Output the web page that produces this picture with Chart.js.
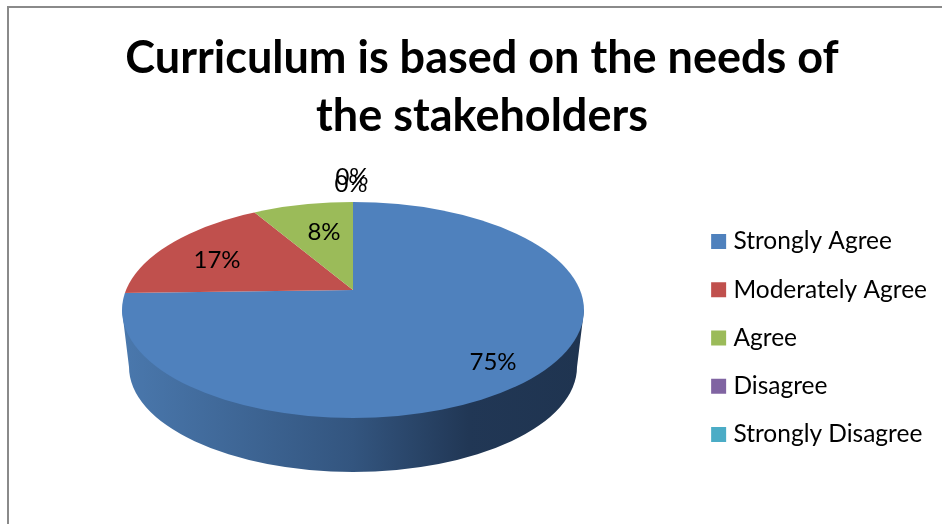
<!DOCTYPE html>
<html>
<head>
<meta charset="utf-8">
<script src="https://cdn.jsdelivr.net/npm/chart.js@4"></script>
<style>
    html, body { margin: 0; padding: 0; background: #fff; overflow: hidden; }
    #frame { position: absolute; left: 7px; top: 6px; width: 960px; height: 560px; border: 2px solid #8a8a8a; }
    #wrap { position: absolute; left: 0; top: 0; width: 942px; height: 524px; }
</style>
</head>
<body>
<div id="frame"></div>
<div id="wrap"><canvas id="chart"></canvas></div>
<script>
const categories = ['Strongly Agree', 'Moderately Agree', 'Agree', 'Disagree', 'Strongly Disagree'];
const shares = [75, 17, 8, 0, 0];
const sliceColors = ['#4F81BD', '#C0504D', '#9BBB59', '#8064A2', '#4BACC6'];
const titleLines = ['Curriculum is based on the needs of', 'the stakeholders'];

// Donde caen los porcentajes (centro de cada texto)
const labelSpots = [[493, 362], [217, 260], [324, 232], [351, 184], [352, 177]];

// El pastel "3D": una elipse con el vertice de las rebanadas arriba del centro
const pie = { apexX: 353, apexY: 290, squash: 0.44, skew: -0.013, topCy: 310, topRx: 231, topRy: 108, wallCy: 367, wallRx: 224, wallRy: 105 };

const pie3d = {
    id: 'pie3d',
    beforeDatasetsDraw(chart) {
        const ctx = chart.ctx;
        const first = chart.getDatasetMeta(0).data[0];

        // Pared lateral (solo se ve la rebanada azul)
        const grad = ctx.createLinearGradient(pie.apexX - pie.topRx, 0, pie.apexX + pie.topRx, 0);
        grad.addColorStop(0, '#4a78ad');
        grad.addColorStop(0.5, '#33557f');
        grad.addColorStop(0.75, '#213755');
        grad.addColorStop(1, '#1f3450');
        ctx.save();
        ctx.beginPath();
        ctx.moveTo(pie.apexX - pie.topRx, pie.topCy);
        ctx.lineTo(pie.apexX - pie.wallRx, pie.wallCy);
        ctx.ellipse(pie.apexX, pie.wallCy, pie.wallRx, pie.wallRy, 0, Math.PI, 0, true);
        ctx.lineTo(pie.apexX + pie.topRx, pie.topCy);
        ctx.closePath();
        ctx.fillStyle = grad;
        ctx.fill();
        ctx.restore();

        // Cara superior: las rebanadas de Chart.js aplastadas y recortadas a la elipse
        ctx.save();
        ctx.beginPath();
        ctx.ellipse(pie.apexX, pie.topCy, pie.topRx, pie.topRy, 0, 0, Math.PI * 2);
        ctx.clip();
        ctx.transform(1, pie.skew, 0, pie.squash, pie.apexX, pie.apexY);
        ctx.translate(-first.x, -first.y);
    },
    afterDatasetsDraw(chart) {
        const ctx = chart.ctx;
        ctx.restore();

        ctx.save();
        ctx.fillStyle = '#000';
        ctx.font = '24px Lato';
        ctx.textAlign = 'center';
        ctx.textBaseline = 'middle';
        const total = shares.reduce((a, b) => a + b, 0);
        shares.forEach((v, i) => {
            ctx.fillText(Math.round(v / total * 100) + '%', labelSpots[i][0], labelSpots[i][1]);
        });
        ctx.restore();
    }
};

new Chart(document.getElementById('chart'), {
    type: 'pie',
    data: {
        labels: categories,
        datasets: [{
            data: shares,
            backgroundColor: sliceColors,
            borderWidth: 0,
            clip: false
        }]
    },
    options: {
        responsive: true,
        maintainAspectRatio: false,
        animation: false,
        radius: 310,
        layout: { padding: { left: 27, right: 5, top: 29, bottom: 0 } },
        plugins: {
            tooltip: { enabled: false },
            title: {
                display: true,
                text: titleLines,
                color: '#000',
                font: { family: 'Lato', size: 45, weight: 'bold', lineHeight: 1.29 },
                padding: { top: 0, bottom: 7 }
            },
            legend: {
                position: 'right',
                fullSize: false,
                labels: {
                    color: '#000',
                    font: { family: 'Lato', size: 24.5 },
                    boxWidth: 5,
                    boxHeight: 5,
                    padding: 23.75,
                    // con el borde del mismo color el cuadro queda de 15px y el texto mas cerca
                    generateLabels(chart) {
                        return Chart.controllers.pie.overrides.plugins.legend.labels.generateLabels(chart).map(item => ({
                            ...item,
                            strokeStyle: item.fillStyle,
                            lineWidth: 10
                        }));
                    }
                }
            }
        }
    },
    plugins: [pie3d]
});
</script>
</body>
</html>
